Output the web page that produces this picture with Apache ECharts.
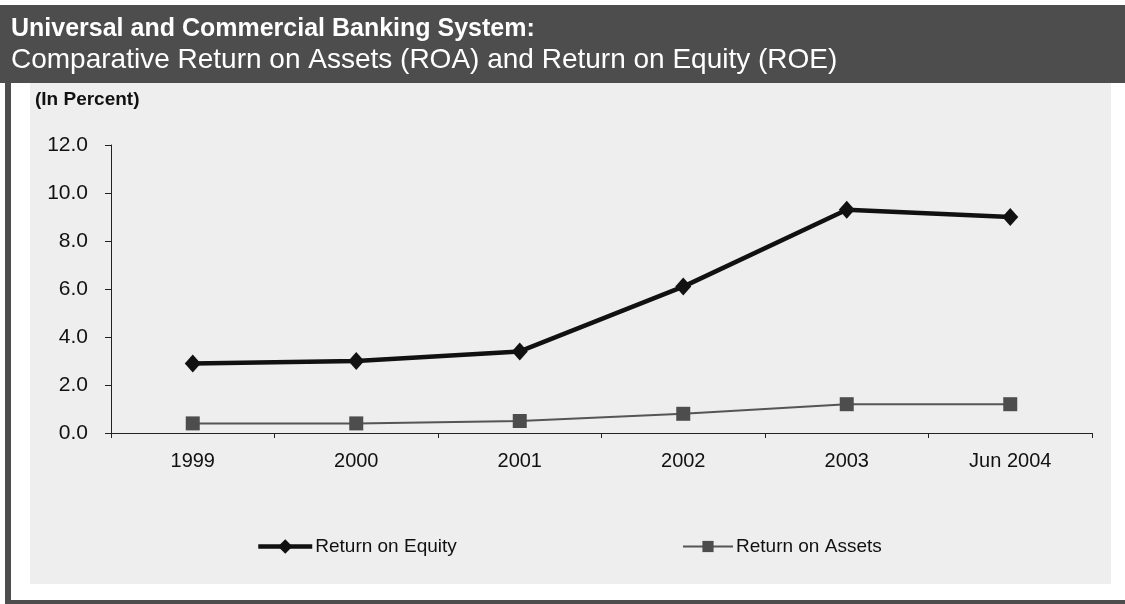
<!DOCTYPE html>
<html>
<head>
<meta charset="utf-8">
<script src="https://cdn.jsdelivr.net/npm/echarts@6/dist/echarts.min.js"></script>
<style>
  html, body { margin: 0; padding: 0; background: #ffffff; }
  #chart { width: 1125px; height: 604px; }
</style>
</head>
<body>
<div id="chart"></div>
<script>
// Banking system profitability ratios, in percent
const years = ['1999', '2000', '2001', '2002', '2003', 'Jun 2004'];
const returnOnEquity = [2.9, 3.0, 3.4, 6.1, 9.3, 9.0];
const returnOnAssets = [0.4, 0.4, 0.5, 0.8, 1.2, 1.2];
const yTicks = { min: 0, max: 12, interval: 2 };

const FONT = '"Liberation Sans", Arial, sans-serif';
const DARK = '#4d4d4d';
const PANEL = '#eeeeee';

const chart = echarts.init(document.getElementById('chart'), null, { renderer: 'canvas' });

chart.setOption({
  backgroundColor: '#ffffff',
  animation: false,
  textStyle: { fontFamily: FONT },
  graphic: [
    // header band
    { type: 'rect', z: -10, shape: { x: 0, y: 5, width: 1125, height: 78 }, style: { fill: DARK } },
    // left frame edge
    { type: 'rect', z: -10, shape: { x: 5, y: 83, width: 6, height: 521 }, style: { fill: DARK } },
    // bottom frame edge
    { type: 'rect', z: -10, shape: { x: 5, y: 600, width: 1120, height: 4 }, style: { fill: DARK } },
    // chart panel
    { type: 'rect', z: -10, shape: { x: 30, y: 83, width: 1081, height: 501 }, style: { fill: PANEL } },
    {
      type: 'text', x: 11, y: 17,
      style: { text: 'Universal and Commercial Banking System:', fill: '#ffffff',
               font: 'bold 25px ' + FONT, verticalAlign: 'top' }
    },
    {
      type: 'text', x: 11, y: 46,
      style: { text: 'Comparative Return on Assets (ROA) and Return on Equity (ROE)', fill: '#ffffff',
               font: '28px ' + FONT, verticalAlign: 'top' }
    },
    {
      type: 'text', x: 35, y: 90,
      style: { text: '(In Percent)', fill: '#111111', font: 'bold 19px ' + FONT,
               verticalAlign: 'top' }
    }
  ],
  grid: { left: 111, right: 33, top: 145, bottom: 171, containLabel: false },
  legend: [
    {
      data: ['Return on Equity'], left: 251, top: 532,
      itemWidth: 54, itemHeight: 18,
      lineStyle: { width: 4.5 },
      textStyle: { fontSize: 19, color: '#111111', fontFamily: FONT, padding: [0, 0, 0, -2] }
    },
    {
      data: ['Return on Assets'], left: 677, top: 532,
      itemWidth: 50, itemHeight: 14,
      lineStyle: { width: 2 },
      textStyle: { fontSize: 19, color: '#111111', fontFamily: FONT, padding: [0, 0, 0, -2] }
    }
  ],
  xAxis: {
    type: 'category',
    data: years,
    boundaryGap: true,
    axisLine: { lineStyle: { color: '#222222', width: 1 } },
    axisTick: { show: true, length: 5, inside: false, lineStyle: { color: '#222222' } },
    axisLabel: { color: '#111111', fontSize: 20, margin: 18, fontFamily: FONT },
    splitLine: { show: false }
  },
  yAxis: {
    type: 'value',
    min: yTicks.min, max: yTicks.max, interval: yTicks.interval,
    axisLine: { show: true, lineStyle: { color: '#222222', width: 1 } },
    axisTick: { show: true, length: 6, inside: false, lineStyle: { color: '#222222' } },
    axisLabel: { color: '#111111', fontSize: 21, margin: 23, fontFamily: FONT,
                 formatter: v => v.toFixed(1) },
    splitLine: { show: false }
  },
  series: [
    {
      name: 'Return on Equity',
      type: 'line',
      data: returnOnEquity,
      symbol: 'diamond',
      symbolSize: [16, 18],
      lineStyle: { color: '#111111', width: 4.5 },
      itemStyle: { color: '#111111' },
      z: 3
    },
    {
      name: 'Return on Assets',
      type: 'line',
      data: returnOnAssets,
      symbol: 'rect',
      symbolSize: 14,
      lineStyle: { color: '#555555', width: 2 },
      itemStyle: { color: DARK, borderRadius: 2 },
      z: 2
    }
  ]
});
</script>
</body>
</html>
